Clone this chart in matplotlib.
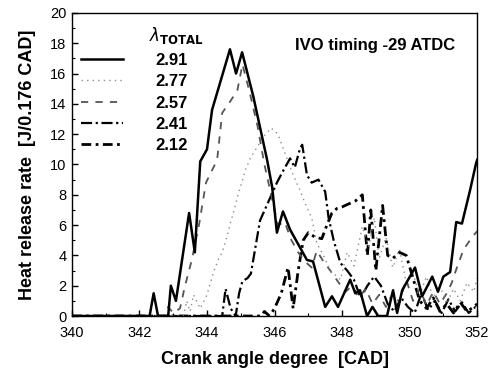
import numpy as np
import matplotlib
matplotlib.use("Agg")
import matplotlib.pyplot as plt
from matplotlib.lines import Line2D
from matplotlib.ticker import MultipleLocator

plt.rcParams['font.family'] = ['Liberation Sans', 'DejaVu Sans']

# heat release rate traces per lambda_total
lambdas = ['2.91', '2.77', '2.57', '2.41', '2.12']

cad_291 = [340, 342.3, 342.42, 342.55, 342.85, 342.93, 343.08, 343.47, 343.64, 343.8,
           344.0, 344.15, 344.68, 344.86, 345.04, 345.37, 345.78, 345.93, 346.07, 346.25,
           346.46, 346.96, 347.14, 347.5, 347.7, 347.88, 348.24, 348.39, 348.53, 348.74,
           348.9, 349.07, 349.33, 349.51, 349.63, 349.78, 350.16, 350.37, 350.67, 350.84,
           351.0, 351.2, 351.38, 351.55, 351.79, 351.97, 352.0]
hrr_291 = [0, 0, 1.5, 0, 0, 2.0, 1.0, 6.8, 4.2, 10.2,
           11.0, 13.6, 17.6, 16.0, 17.4, 14.5, 10.3, 8.5, 5.5, 6.9,
           5.7, 3.7, 3.6, 0.6, 1.3, 0.6, 2.4, 1.5, 1.7, 0.0,
           0.6, 0.0, 0.0, 1.7, 0.2, 1.7, 3.2, 1.3, 2.6, 1.6,
           2.6, 2.9, 6.2, 6.1, 8.3, 10.1, 10.3]

cad_277 = [340, 343.3, 343.4, 343.5, 343.6, 343.8, 344.0, 344.18, 344.33, 344.45,
           344.6, 344.7, 344.78, 344.93, 345.03, 345.13, 345.28, 345.5, 345.7, 345.9,
           346.1, 346.3, 346.5, 346.75, 346.95, 347.1, 347.25, 347.45, 347.65, 347.95,
           348.15, 348.35, 348.6, 348.8, 348.95, 349.1, 349.3, 349.5, 349.7, 349.9,
           350.1, 350.3, 350.5, 350.7, 350.9, 351.1, 351.3, 351.5, 351.7, 351.9, 352]
hrr_277 = [0, 0, 1.0, 0.3, 1.4, 0.5, 1.4, 2.8, 3.7, 4.2,
           5.3, 6.2, 6.8, 8.1, 8.8, 9.6, 10.4, 11.2, 11.9, 12.4,
           12.0, 10.8, 9.6, 8.3, 7.2, 6.5, 4.8, 4.0, 3.0, 2.4,
           4.2, 3.3, 5.9, 4.6, 6.5, 3.8, 5.2, 3.2, 4.4, 2.2,
           2.8, 1.4, 2.6, 1.2, 2.0, 0.8, 1.8, 1.0, 2.2, 1.6, 2.5]

cad_257 = [340, 342.75, 342.85, 343.0, 343.2, 343.35, 343.55, 343.77, 343.97, 344.3,
           344.45, 344.7, 344.9, 345.05, 345.27, 345.5, 345.7, 345.9, 346.1, 346.3,
           346.5, 346.7, 346.9, 347.1, 347.25, 347.45, 347.65, 347.9, 348.1, 348.3,
           348.5, 348.7, 348.9, 349.1, 349.3, 349.5, 349.7, 349.9, 350.1, 350.3,
           350.5, 350.7, 350.9, 351.1, 351.25, 351.4, 351.6, 351.85, 352]
hrr_257 = [0, 0, 0.6, 0.2, 0.5, 2.0, 3.7, 6.1, 8.8, 10.3,
           13.4, 14.2, 14.9, 16.6, 14.7, 12.5, 10.0, 8.0, 6.0, 6.2,
           5.0, 4.2, 3.6, 3.2, 4.3, 3.6, 3.0, 2.2, 1.6, 2.0,
           1.2, 1.8, 0.8, 1.4, 0.6, 1.5, 0.9, 2.4, 1.0, 1.8,
           0.7, 1.6, 0.8, 1.5, 2.2, 3.2, 4.4, 5.2, 5.6]

cad_241 = [340, 344.45, 344.55, 344.7, 344.85, 344.95, 345.05, 345.2, 345.3, 345.57,
           345.87, 346.07, 346.26, 346.46, 346.6, 346.76, 346.82, 346.96, 347.1, 347.3,
           347.5, 347.6, 347.75, 347.95, 348.15, 348.35, 348.55, 348.75, 348.95, 349.15,
           349.35, 349.55, 349.75, 349.95, 350.15, 350.35, 350.55, 350.75, 350.95, 351.15,
           351.35, 351.55, 351.75, 351.95, 352]
hrr_241 = [0, 0, 1.8, 0.5, 0, 1.5, 2.3, 2.5, 2.8, 6.3,
           7.8, 8.8, 9.6, 10.4, 9.8, 11.1, 11.3, 9.3, 8.8, 9.0,
           8.2, 6.5, 5.0, 3.5, 3.0, 2.4, 1.2, 2.0, 2.6, 2.0,
           0.8, 0.3, 1.2, 0.6, 0.2, 1.5, 0.4, 1.0, 0.2, 1.1,
           0.3, 0.9, 0.2, 0.6, 0.5]

cad_212 = [340, 345.6, 345.7, 345.85, 346.0, 346.2, 346.4, 346.55, 346.7, 346.85,
           347.0, 347.2, 347.4, 347.55, 347.7, 347.85, 348.0, 348.2, 348.4, 348.6,
           348.75, 348.85, 349.0, 349.2, 349.35, 349.5, 349.7, 349.9, 350.1, 350.3,
           350.5, 350.7, 350.9, 351.1, 351.3, 351.5, 351.7, 351.9, 352]
hrr_212 = [0, 0, 0.3, 0, 0.5, 1.5, 3.2, 0.5, 3.0, 5.0,
           5.5, 5.2, 5.1, 6.0, 6.8, 7.1, 7.2, 7.4, 7.6, 8.0,
           4.0, 7.0, 3.0, 7.3, 4.0, 3.8, 4.2, 4.0, 2.5, 1.0,
           0.5, 1.2, 0.3, 0.8, 0.2, 0.9, 0.3, 0.6, 0.8]

series = [
    (cad_291, hrr_291, dict(color='black', lw=1.8, ls='-')),
    (cad_277, hrr_277, dict(color='#8c8c8c', lw=1.0, ls=(0, (1, 3)))),
    (cad_257, hrr_257, dict(color='#555555', lw=1.3, ls=(0, (4, 4)))),
    (cad_241, hrr_241, dict(color='black', lw=1.6, ls=(0, (5, 1.6, 1, 1.6)))),
    (cad_212, hrr_212, dict(color='black', lw=2.0, ls=(0, (3.5, 1.6, 1, 1.6)))),
]

fig = plt.figure(figsize=(4.96, 3.69), dpi=100)
ax = fig.add_axes([0.145, 0.1436, 0.817, 0.8214])

handles = []
# draw the solid trace last so it sits on top
for x, y, style in reversed(series):
    ax.plot(x, y, zorder=3 if style['ls'] == '-' else 2, **style)
for x, y, style in series:
    handles.append(Line2D([], [], **style))

ax.set_xlim(340, 352)
ax.set_ylim(0, 20)
ax.xaxis.set_major_locator(MultipleLocator(2))
ax.xaxis.set_minor_locator(MultipleLocator(1))
ax.yaxis.set_major_locator(MultipleLocator(2))
ax.yaxis.set_minor_locator(MultipleLocator(1))
ax.tick_params(which='major', direction='in', length=4, width=1, labelsize=10.5)
ax.tick_params(axis='x', which='major', pad=7)
ax.tick_params(axis='y', which='major', pad=4)
ax.tick_params(which='minor', direction='in', length=2, width=0.8)
for s in ax.spines.values():
    s.set_linewidth(1.0)

ax.set_xlabel('Crank angle degree  [CAD]', fontsize=13, fontweight='bold', labelpad=8)
ax.set_ylabel('Heat release rate  [J/0.176 CAD]', fontsize=13, fontweight='bold', labelpad=10)

leg = ax.legend(handles, lambdas, loc='upper left', bbox_to_anchor=(0.022, 0.868),
                frameon=False, handlelength=2.5, handletextpad=2.0, labelspacing=0.38,
                borderpad=0, borderaxespad=0, prop=dict(size=12, weight='bold'))
ax.text(0.19, 0.925, r'$\lambda_{\mathbf{TOTAL}}$', transform=ax.transAxes,
        fontsize=12, ha='left', va='center')
ax.text(0.748, 0.894, 'IVO timing -29 ATDC', transform=ax.transAxes,
        fontsize=12, fontweight='bold', ha='center', va='center')

fig.savefig('out.png', dpi=100)
